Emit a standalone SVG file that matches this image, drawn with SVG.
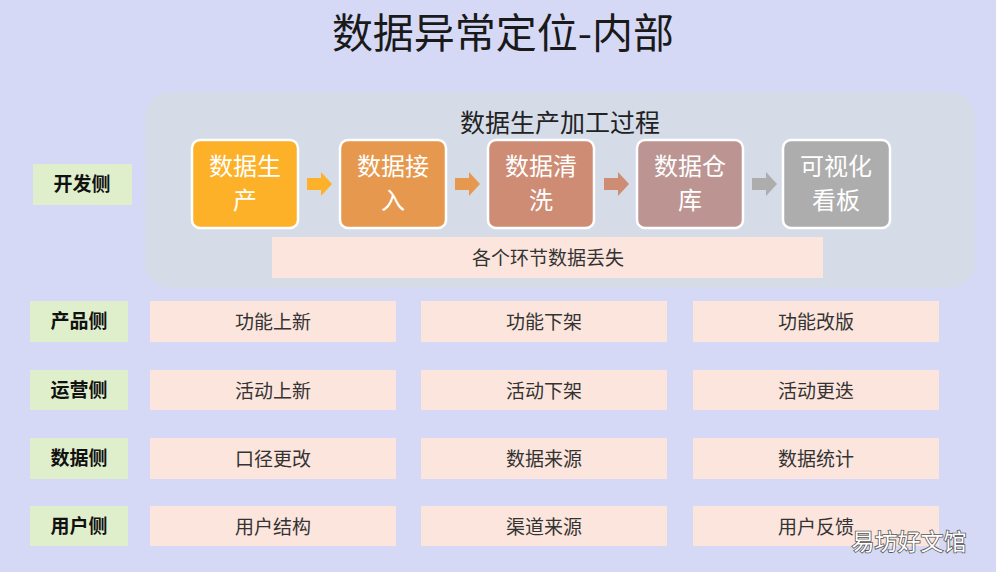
<svg xmlns="http://www.w3.org/2000/svg" width="996" height="572" viewBox="0 0 996 572">
<style>
text{font-family:"Noto Sans CJK SC","Liberation Sans",sans-serif;text-anchor:middle}
.title{font-size:41px;fill:#1a1a1a}
.sub{font-size:25px;fill:#222}
.step rect{stroke:#ffffff;stroke-width:2.5}
.step text{font-size:24px;fill:#ffffff}
.side rect{fill:#DFEFCB}
.side text{font-size:19px;font-weight:bold;fill:#111}
.item rect{fill:#FCE5DD}
.item text{font-size:19px;fill:#333}
.wm{font-size:23px;fill:#ffffff;stroke:#555;stroke-width:1.6;paint-order:stroke}
</style>
<rect width="996" height="572" fill="#D6D9F5"/>
<text class="title" x="503" y="48">数据异常定位-内部</text>
<g id="panel">
<rect x="145" y="92" width="830" height="196" rx="26" fill="#D5DCE8"/>
<text class="sub" x="560" y="132">数据生产加工过程</text>
</g>
<g id="step1" class="step"><rect x="192" y="140" width="106" height="88" rx="8" fill="#FDB128"/><text x="245" y="175">数据生</text><text x="245" y="209">产</text></g>
<g id="step2" class="step"><rect x="340" y="140" width="106" height="88" rx="8" fill="#E6994E"/><text x="393" y="175">数据接</text><text x="393" y="209">入</text></g>
<g id="step3" class="step"><rect x="488" y="140" width="106" height="88" rx="8" fill="#CE8C74"/><text x="541" y="175">数据清</text><text x="541" y="209">洗</text></g>
<g id="step4" class="step"><rect x="637" y="140" width="106" height="88" rx="8" fill="#BC9592"/><text x="690" y="175">数据仓</text><text x="690" y="209">库</text></g>
<g id="step5" class="step"><rect x="783" y="140" width="107" height="88" rx="8" fill="#ADADAD"/><text x="836" y="175">可视化</text><text x="836" y="209">看板</text></g>
<g id="connectors">
<path d="M307 178h14v-6l11 12l-11 12v-6h-14z" fill="#FDB128"/>
<path d="M455 178h14v-6l11 12l-11 12v-6h-14z" fill="#E6994E"/>
<path d="M604 178h14v-6l11 12l-11 12v-6h-14z" fill="#CE8C74"/>
<path d="M752 178h14v-6l11 12l-11 12v-6h-14z" fill="#ADADAD"/>
</g>
<g id="loss" class="item"><rect x="272" y="237" width="551" height="41"/><text x="548" y="265">各个环节数据丢失</text></g>
<g id="side-dev" class="side"><rect x="33" y="164" width="99" height="41"/><text x="82" y="191">开发侧</text></g>
<g id="side-prod" class="side"><rect x="30" y="301" width="98" height="41"/><text x="79" y="328">产品侧</text></g>
<g id="side-ops" class="side"><rect x="30" y="370" width="98" height="40"/><text x="79" y="397">运营侧</text></g>
<g id="side-data" class="side"><rect x="30" y="438" width="98" height="41"/><text x="79" y="465">数据侧</text></g>
<g id="side-user" class="side"><rect x="30" y="506" width="98" height="40"/><text x="79" y="533">用户侧</text></g>
<g id="p1" class="item"><rect x="150" y="301" width="246" height="41"/><text x="273" y="329">功能上新</text></g>
<g id="p2" class="item"><rect x="421" y="301" width="246" height="41"/><text x="544" y="329">功能下架</text></g>
<g id="p3" class="item"><rect x="693" y="301" width="246" height="41"/><text x="816" y="329">功能改版</text></g>
<g id="o1" class="item"><rect x="150" y="370" width="246" height="40"/><text x="273" y="398">活动上新</text></g>
<g id="o2" class="item"><rect x="421" y="370" width="246" height="40"/><text x="544" y="398">活动下架</text></g>
<g id="o3" class="item"><rect x="693" y="370" width="246" height="40"/><text x="816" y="398">活动更迭</text></g>
<g id="d1" class="item"><rect x="150" y="438" width="246" height="41"/><text x="273" y="466">口径更改</text></g>
<g id="d2" class="item"><rect x="421" y="438" width="246" height="41"/><text x="544" y="466">数据来源</text></g>
<g id="d3" class="item"><rect x="693" y="438" width="246" height="41"/><text x="816" y="466">数据统计</text></g>
<g id="u1" class="item"><rect x="150" y="506" width="246" height="40"/><text x="273" y="534">用户结构</text></g>
<g id="u2" class="item"><rect x="421" y="506" width="246" height="40"/><text x="544" y="534">渠道来源</text></g>
<g id="u3" class="item"><rect x="693" y="506" width="246" height="40"/><text x="816" y="534">用户反馈</text></g>
<text class="wm" x="909" y="550">易坊好文馆</text>
</svg>
